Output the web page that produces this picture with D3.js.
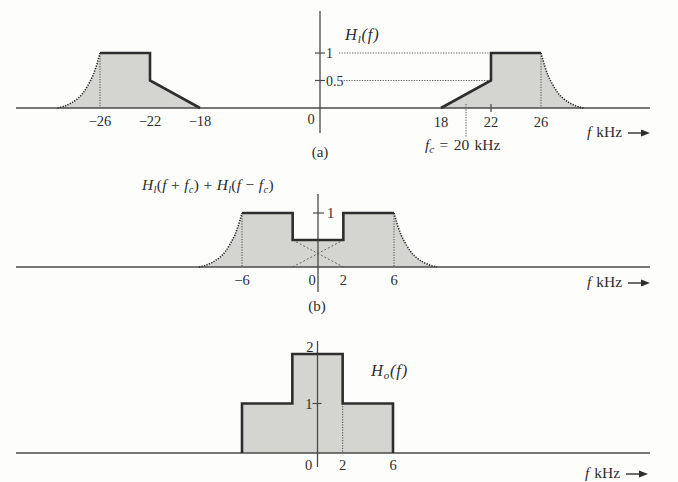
<!DOCTYPE html>
<html><head><meta charset="utf-8">
<script src="https://cdn.jsdelivr.net/npm/d3@7"></script>
<style>
html,body{margin:0;padding:0;background:#fdfdfc;}
svg{display:block;font-family:"Liberation Serif","Times New Roman",serif;}
</style></head>
<body>
<svg id="c" width="678" height="482"></svg>
<script>
// ---------- data ----------
// roll-off (dotted vestigial edge): offset in kHz beyond the band edge, and amplitude
const rollOffset = [0, 0.12, 0.3, 0.55, 0.9, 1.3, 1.8, 2.3, 2.9, 3.4];
const rollValue  = [1, 0.9, 0.76, 0.6, 0.44, 0.29, 0.17, 0.09, 0.03, 0];

// panel (a): H_l(f)
const aLeftFreq  = [-26, -22, -22, -18];
const aLeftVal   = [1, 1, 0.5, 0];
const aRightFreq = [18, 22, 22, 26];
const aRightVal  = [0, 0.5, 1, 1];
const aTickLabels = [-26, -22, -18, 18, 22, 26];
const aYTicks = [1, 0.5];
const fc = 20;

// panel (b): H_l(f+fc) + H_l(f-fc)
const bFreq = [-6, -2, -2, 2, 2, 6];
const bVal  = [1, 1, 0.5, 0.5, 1, 1];
const bCrossUp   = {f: [-2, 2], v: [0, 0.5]};
const bCrossDown = {f: [-2, 2], v: [0.5, 0]};
const bTickLabels = [-6, 2, 6];

// panel (c): H_o(f)
const cFreq = [-6, -6, -2, -2, 2, 2, 6, 6];
const cVal  = [0, 1, 1, 2, 2, 1, 1, 0];
const cTickLabels = [2, 6];

// ---------- styles ----------
const FILL = "#d4d4d1", INK = "#2e2e2e", AX = "#4a4a4a";
const svg = d3.select("#c");

function txt(g, x, y, s, anchor, size) {
  return g.append("text").attr("x", x).attr("y", y)
    .attr("text-anchor", anchor || "middle").attr("font-size", size || 14)
    .attr("fill", INK).text(s);
}
function minus(n) { return n < 0 ? "\u2212" + Math.abs(n) : String(n); }
function fkHz(x, y) {
  const t = svg.append("text").attr("x", x).attr("y", y).attr("font-size", 15.5).attr("fill", INK);
  t.append("tspan").attr("font-style", "italic").text("f");
  t.append("tspan").attr("dx", 5).text("kHz");
  svg.append("line").attr("x1", x + 41).attr("x2", x + 56).attr("y1", y - 4).attr("y2", y - 4)
    .attr("stroke", INK).attr("stroke-width", 1.4);
  svg.append("path").attr("d", `M${x+54},${y-7.5}L${x+63},${y-4}L${x+54},${y-0.5}Z`).attr("fill", INK);
}
const pts = (F, V) => F.map((f, i) => [f, V[i]]);
function rolloff(edge, dir) {
  const p = rollOffset.map((o, i) => [edge + dir * o, rollValue[i]]);
  return p.sort((a, b) => a[0] - b[0]);
}
function drawRoll(g, x, y, p) {
  g.append("path").attr("d", d3.area().x(d => x(d[0])).y0(y(0)).y1(d => y(d[1])).curve(d3.curveMonotoneX)(p))
    .attr("fill", FILL);
}
function drawRollLine(g, x, y, p) {
  g.append("path").attr("d", d3.line().x(d => x(d[0])).y(d => y(d[1])).curve(d3.curveMonotoneX)(p))
    .attr("fill", "none").attr("stroke", INK).attr("stroke-width", 1.6).attr("stroke-dasharray", "1.3,1.3");
}
function drawPoly(g, x, y, p) {
  const poly = [[p[0][0], 0], ...p, [p[p.length - 1][0], 0]];
  g.append("path").attr("d", d3.line().x(d => x(d[0])).y(d => y(d[1]))(poly)).attr("fill", FILL);
}
function drawOutline(g, x, y, p) {
  g.append("path").attr("d", d3.line().x(d => x(d[0])).y(d => y(d[1]))(p))
    .attr("fill", "none").attr("stroke", INK).attr("stroke-width", 2.6).attr("stroke-linejoin", "miter");
}
function vdot(g, x1, y1, y2, w) {
  g.append("line").attr("x1", x1).attr("x2", x1).attr("y1", y1).attr("y2", y2)
    .attr("stroke", "#555").attr("stroke-width", w || 1).attr("stroke-dasharray", "1.3,1.3");
}
function axes(g, y0, yTop, yBot, x0) {
  g.append("line").attr("x1", 16).attr("x2", 650).attr("y1", y0).attr("y2", y0)
    .attr("stroke", AX).attr("stroke-width", 1.3);
  g.append("line").attr("x1", x0).attr("x2", x0).attr("y1", yTop).attr("y2", yBot)
    .attr("stroke", AX).attr("stroke-width", 1.3);
}
function hLabel(g, x, y, sub) {
  const h = g.append("text").attr("x", x).attr("y", y).attr("font-size", 16.5)
    .attr("letter-spacing", 0.8).attr("fill", INK).attr("font-style", "italic");
  h.append("tspan").text("H");
  h.append("tspan").attr("font-size", 11).attr("dy", 3).text(sub);
  h.append("tspan").attr("dy", -3).text("(f)");
}

// ---------- panel (a) ----------
{
  const g = svg.append("g");
  const x = d3.scaleLinear().domain([-26, -18, 0, 18, 26]).range([100, 200, 320, 441, 541]);
  const y = d3.scaleLinear().domain([0, 1]).range([108, 53]);
  const lRoll = rolloff(-26, -1), rRoll = rolloff(26, 1);
  drawRoll(g, x, y, lRoll); drawRoll(g, x, y, rRoll);
  drawPoly(g, x, y, pts(aLeftFreq, aLeftVal));
  drawPoly(g, x, y, pts(aRightFreq, aRightVal));
  vdot(g, x(-26), y(1), y(0)); vdot(g, x(26), y(1), y(0));
  g.append("line").attr("x1", 339).attr("x2", x(22)).attr("y1", y(1)).attr("y2", y(1))
    .attr("stroke", "#666").attr("stroke-width", 1).attr("stroke-dasharray", "1.3,1.3");
  g.append("line").attr("x1", 341).attr("x2", x(22)).attr("y1", y(0.5)).attr("y2", y(0.5))
    .attr("stroke", "#666").attr("stroke-width", 1).attr("stroke-dasharray", "1.3,1.3");
  axes(g, y(0), 11, 133, x(0));
  drawRollLine(g, x, y, lRoll); drawRollLine(g, x, y, rRoll);
  drawOutline(g, x, y, pts(aLeftFreq, aLeftVal));
  drawOutline(g, x, y, pts(aRightFreq, aRightVal));
  aYTicks.forEach(v => {
    g.append("line").attr("x1", x(0) - 5).attr("x2", x(0) + 5).attr("y1", y(v)).attr("y2", y(v))
      .attr("stroke", AX).attr("stroke-width", 1.2);
    txt(g, x(0) + 6, y(v) + 5, String(v), "start", 14);
  });
  g.append("line").attr("x1", x(22)).attr("x2", x(22)).attr("y1", y(0) - 4).attr("y2", y(0) + 4)
    .attr("stroke", AX).attr("stroke-width", 1.2);
  aTickLabels.forEach(v => txt(g, x(v), v < 0 ? 126 : 127, minus(v), "middle", 14.5));
  txt(g, x(0) - 9, 124, "0", "middle", 14.5);
  vdot(g, x(fc), y(0) - 4, 137);
  const t = g.append("text").attr("x", x(fc) - 41).attr("y", 150).attr("font-size", 15.5)
    .attr("word-spacing", 1.5).attr("fill", INK);
  t.append("tspan").attr("font-style", "italic").text("f");
  t.append("tspan").attr("font-style", "italic").attr("font-size", 11).attr("dy", 3).text("c");
  t.append("tspan").attr("dy", -3).text(" = 20 kHz");
  hLabel(g, 345, 40, "l");
  txt(g, 320, 157, "(a)", "middle", 15);
  fkHz(587, 137);
}

// ---------- panel (b) ----------
{
  const g = svg.append("g");
  const x = d3.scaleLinear().domain([-6, 6]).range([242, 394]);
  const y = d3.scaleLinear().domain([0, 1]).range([267, 213]);
  const lRoll = rolloff(-6, -1), rRoll = rolloff(6, 1);
  drawRoll(g, x, y, lRoll); drawRoll(g, x, y, rRoll);
  drawPoly(g, x, y, pts(bFreq, bVal));
  vdot(g, x(-6), y(1), y(0)); vdot(g, x(6), y(1), y(0));
  [bCrossUp, bCrossDown].forEach(c => {
    g.append("path").attr("d", d3.line().x(d => x(d[0])).y(d => y(d[1]))(pts(c.f, c.v)))
      .attr("stroke", "#666").attr("stroke-width", 1).attr("stroke-dasharray", "2,2").attr("fill", "none");
  });
  axes(g, y(0), 194, 292, x(0));
  drawRollLine(g, x, y, lRoll); drawRollLine(g, x, y, rRoll);
  drawOutline(g, x, y, pts(bFreq, bVal));
  g.append("line").attr("x1", x(0) - 5).attr("x2", x(0) + 6).attr("y1", y(1)).attr("y2", y(1))
    .attr("stroke", AX).attr("stroke-width", 1.2);
  txt(g, x(0) + 9, y(1) + 5, "1", "start", 14.5);
  bTickLabels.forEach(v => txt(g, x(v), 285, minus(v), "middle", 14.5));
  txt(g, x(0) - 6, 285, "0", "middle", 14.5);
  const t = g.append("text").attr("x", 142).attr("y", 190).attr("font-size", 15.5)
    .attr("letter-spacing", 0.3).attr("fill", INK);
  const it = s => t.append("tspan").attr("font-style", "italic").text(s);
  const sub = s => t.append("tspan").attr("font-style", "italic").attr("font-size", 10.5).attr("dy", 3).text(s);
  it("H"); sub("l");
  t.append("tspan").attr("dy", -3).text("(");
  it("f"); t.append("tspan").text(" + ");
  it("f"); sub("c");
  t.append("tspan").attr("dy", -3).text(") + ");
  it("H"); sub("l");
  t.append("tspan").attr("dy", -3).text("(");
  it("f"); t.append("tspan").text(" \u2212 ");
  it("f"); sub("c");
  t.append("tspan").attr("dy", -3).text(")");
  txt(g, 317, 311, "(b)", "middle", 15);
  fkHz(587, 287);
}

// ---------- panel (c) ----------
{
  const g = svg.append("g");
  const x = d3.scaleLinear().domain([-6, 6]).range([242, 393]);
  const y = d3.scaleLinear().domain([0, 2]).range([453, 354]);
  g.append("path").attr("d", d3.line().x(d => x(d[0])).y(d => y(d[1]))(pts(cFreq, cVal))).attr("fill", FILL);
  vdot(g, x(2), y(1), y(0));
  axes(g, y(0), 341, 467, x(0));
  drawOutline(g, x, y, pts(cFreq, cVal));
  g.append("line").attr("x1", x(0) - 5).attr("x2", x(0) + 4).attr("y1", y(1)).attr("y2", y(1))
    .attr("stroke", AX).attr("stroke-width", 1.2);
  txt(g, x(0) - 5, y(1) + 5, "1", "end", 14.5);
  txt(g, x(0) - 4, 352, "2", "end", 14.5);
  cTickLabels.forEach(v => txt(g, x(v), 470, minus(v), "middle", 14.5));
  txt(g, x(0) - 9, 470, "0", "middle", 14.5);
  hLabel(g, 371, 376, "o");
  fkHz(585, 478);
}
</script>
</body></html>
